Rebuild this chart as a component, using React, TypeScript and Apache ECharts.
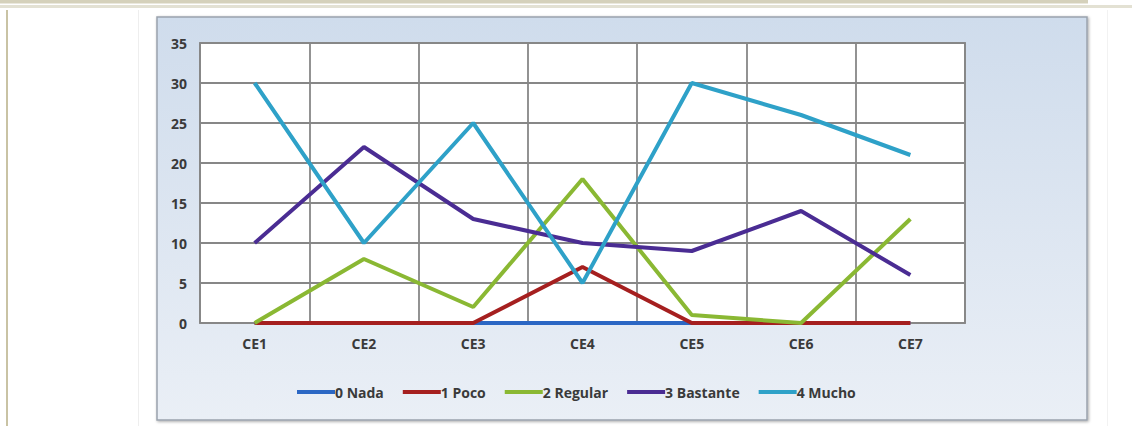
import React, { useEffect, useRef } from "react";
import * as echarts from "echarts";

const categories = ["CE1", "CE2", "CE3", "CE4", "CE5", "CE6", "CE7"];
const seriesNames = ["0 Nada", "1 Poco", "2 Regular", "3 Bastante", "4 Mucho"];
const nada = [0, 0, 0, 0, 0, 0, 0];
const poco = [0, 0, 0, 7, 0, 0, 0];
const regular = [0, 8, 2, 18, 1, 0, 13];
const bastante = [10, 22, 13, 10, 9, 14, 6];
const mucho = [30, 10, 25, 5, 30, 26, 21];
const colors = ["#2b67c4", "#a51f1f", "#8ab833", "#4a2c93", "#2ea1c8"];

export default function App() {
  const ref = useRef<HTMLDivElement>(null);
  useEffect(() => {
    document.body.style.margin = "0";
    const chart = echarts.init(ref.current!, null, { renderer: "svg" });
    const values = [nada, poco, regular, bastante, mucho];
    const font = "'Open Sans', 'Liberation Sans', sans-serif";
    chart.setOption({
      animation: false,
      backgroundColor: "#ffffff",
      graphic: [
        { type: "rect", shape: { x: 0, y: 0, width: 1088, height: 3.5 }, style: { fill: "#d5d1bb" }, silent: true },
        { type: "rect", shape: { x: 0, y: 5, width: 1132, height: 3 }, style: { fill: "#e3e1d3" }, silent: true },
        { type: "rect", shape: { x: 6, y: 10, width: 2, height: 420 }, style: { fill: "#c9c3a4" }, silent: true },
        { type: "rect", shape: { x: 138, y: 10, width: 1, height: 420 }, style: { fill: "#eeeeee" }, silent: true },
        { type: "rect", shape: { x: 1107, y: 10, width: 1, height: 420 }, style: { fill: "#f2f2f2" }, silent: true },
        {
          type: "rect",
          z: -10,
          shape: { x: 157, y: 17, width: 930, height: 403 },
          style: {
            fill: new echarts.graphic.LinearGradient(0, 0, 0, 1, [
              { offset: 0, color: "#cfdcec" },
              { offset: 1, color: "#eaeff6" },
            ]),
            stroke: "#9aa3ad",
            lineWidth: 1.5,
            shadowBlur: 3,
            shadowColor: "rgba(0,0,0,0.35)",
            shadowOffsetX: 1,
            shadowOffsetY: 1,
          },
          silent: true,
        },
        {
          type: "rect",
          z: -5,
          shape: { x: 200, y: 43, width: 765, height: 280 },
          style: { fill: "#ffffff" },
          silent: true,
        },
      ],
      grid: {
        left: 200,
        right: 167,
        top: 43,
        height: 280,
        show: true,
        backgroundColor: "transparent",
        borderColor: "#878787",
        borderWidth: 1.8,
      },
      legend: {
        left: 292,
        top: 380,
        icon: "rect",
        itemWidth: 38,
        itemHeight: 4,
        itemGap: 19,
        data: seriesNames,
        textStyle: { fontFamily: font, fontSize: 14, fontWeight: "bold", color: "#3a3a3a", padding: [0, 0, 0, -5] },
      },
      xAxis: {
        type: "category",
        data: categories,
        boundaryGap: true,
        axisLine: { show: false },
        axisTick: { show: false },
        axisLabel: { margin: 13, fontFamily: font, fontSize: 14, fontWeight: "bold", color: "#3a3a3a" },
        splitLine: { show: true, lineStyle: { color: "#878787", width: 1.8 } },
      },
      yAxis: {
        type: "value",
        min: 0,
        max: 35,
        interval: 5,
        axisLine: { show: false },
        axisTick: { show: false },
        axisLabel: { margin: 13, fontFamily: font, fontSize: 14, fontWeight: "bold", color: "#3a3a3a" },
        splitLine: { show: true, lineStyle: { color: "#878787", width: 1.8 } },
      },
      series: seriesNames.map((name, i) => ({
        name,
        type: "line",
        data: values[i],
        symbol: "none",
        color: colors[i],
        lineStyle: { width: 4, color: colors[i] },
        z: 3 + i,
      })),
    });
    return () => chart.dispose();
  }, []);
  return <div ref={ref} style={{ position: "absolute", left: 0, top: 0, width: 1132, height: 426 }} />;
}
